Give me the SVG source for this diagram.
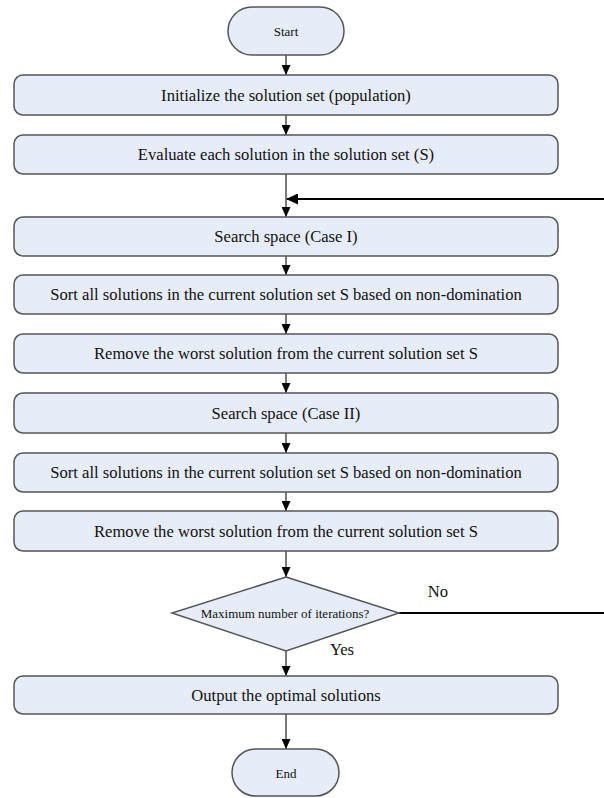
<svg xmlns="http://www.w3.org/2000/svg" width="604" height="798" viewBox="0 0 604 798">
<style>
.box{fill:#E7EDF8;stroke:#555;stroke-width:1.5}
.t{font-family:"Liberation Serif","Times New Roman",serif;font-size:16.6px;fill:#111;text-anchor:middle;dominant-baseline:central}
.s{font-size:13px}
.c{stroke:#222;stroke-width:1.2;fill:none}
.loop{stroke:#000;stroke-width:2;fill:none}
</style>
<defs>
<marker id="ah" markerUnits="userSpaceOnUse" markerWidth="10" markerHeight="9" refX="10" refY="4.5" orient="auto">
<path d="M0,0 L10,4.5 L0,9 z" fill="#000"/>
</marker>
<marker id="ahb" markerUnits="userSpaceOnUse" markerWidth="12" markerHeight="11" refX="11" refY="5.5" orient="auto">
<path d="M0,0 L12,5.5 L0,11 z" fill="#000"/>
</marker>
</defs>
<rect width="604" height="798" fill="#fff"/>
<g id="connectors">
<line class="c" x1="286" y1="55" x2="286" y2="75" marker-end="url(#ah)"/>
<line class="c" x1="286" y1="115" x2="286" y2="135" marker-end="url(#ah)"/>
<line class="c" x1="286" y1="174" x2="286" y2="217" marker-end="url(#ah)"/>
<line class="c" x1="286" y1="256" x2="286" y2="275" marker-end="url(#ah)"/>
<line class="c" x1="286" y1="314" x2="286" y2="334" marker-end="url(#ah)"/>
<line class="c" x1="286" y1="373" x2="286" y2="393" marker-end="url(#ah)"/>
<line class="c" x1="286" y1="433" x2="286" y2="453" marker-end="url(#ah)"/>
<line class="c" x1="286" y1="492" x2="286" y2="511" marker-end="url(#ah)"/>
<line class="c" x1="286" y1="551" x2="286" y2="577" marker-end="url(#ah)"/>
<line class="c" x1="286" y1="651" x2="286" y2="676" marker-end="url(#ah)"/>
<line class="c" x1="286" y1="714" x2="286" y2="749" marker-end="url(#ah)"/>
<line class="loop" x1="604" y1="199" x2="287" y2="199" marker-end="url(#ahb)"/>
<line class="loop" x1="399" y1="613" x2="604" y2="613"/>
<text class="t" x="438" y="591">No</text>
<text class="t" x="342" y="649">Yes</text>
</g>
<g id="start">
<rect class="box" x="228" y="7" width="116" height="48" rx="24"/>
<text class="t s" x="286" y="31">Start</text>
</g>
<g id="init">
<rect class="box" x="14" y="75" width="544" height="40" rx="9"/>
<text class="t" x="286" y="95">Initialize the solution set (population)</text>
</g>
<g id="evaluate">
<rect class="box" x="14" y="135" width="544" height="39" rx="9"/>
<text class="t" x="286" y="154.5">Evaluate each solution in the solution set (S)</text>
</g>
<g id="search1">
<rect class="box" x="14" y="217" width="544" height="39" rx="9"/>
<text class="t" x="286" y="236.5">Search space (Case I)</text>
</g>
<g id="sort1">
<rect class="box" x="14" y="275" width="544" height="39" rx="9"/>
<text class="t" x="286" y="294.5">Sort all solutions in the current solution set S based on non-domination</text>
</g>
<g id="remove1">
<rect class="box" x="14" y="334" width="544" height="39" rx="9"/>
<text class="t" x="286" y="353.5">Remove the worst solution from the current solution set S</text>
</g>
<g id="search2">
<rect class="box" x="14" y="393" width="544" height="40" rx="9"/>
<text class="t" x="286" y="413">Search space (Case II)</text>
</g>
<g id="sort2">
<rect class="box" x="14" y="453" width="544" height="39" rx="9"/>
<text class="t" x="286" y="472.5">Sort all solutions in the current solution set S based on non-domination</text>
</g>
<g id="remove2">
<rect class="box" x="14" y="511" width="544" height="40" rx="9"/>
<text class="t" x="286" y="531">Remove the worst solution from the current solution set S</text>
</g>
<g id="decision">
<polygon class="box" points="286,577 399,613 286,651 172,613"/>
<text class="t s" x="285" y="613">Maximum number of iterations?</text>
</g>
<g id="output">
<rect class="box" x="14" y="676" width="544" height="38" rx="9"/>
<text class="t" x="286" y="695">Output the optimal solutions</text>
</g>
<g id="end">
<rect class="box" x="232" y="749" width="107" height="47" rx="23.5"/>
<text class="t s" x="286" y="773">End</text>
</g>
</svg>
